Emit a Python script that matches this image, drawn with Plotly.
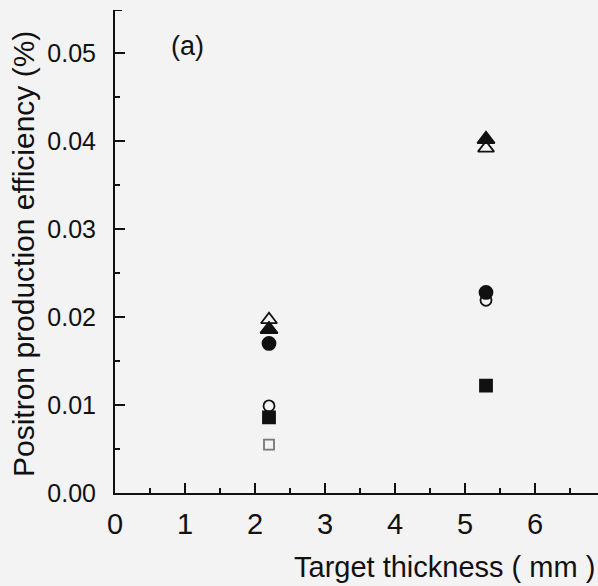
import plotly.graph_objects as go

thickness = [2.2, 5.3]
filled_tri = [0.0186, 0.0402]
open_tri = [0.0197, 0.0392]
filled_circ = [0.0170, 0.0228]
open_circ = [0.0099, 0.0219]
filled_sq = [0.0086, 0.0122]
open_sq_x = [2.2]
open_sq = [0.0055]

x_ticks = [0, 1, 2, 3, 4, 5, 6]
y_ticks = [0.00, 0.01, 0.02, 0.03, 0.04, 0.05]
y_tick_text = ["0.00", "0.01", "0.02", "0.03", "0.04", "0.05"]

FONT = "Liberation Sans, Arial, sans-serif"
INK = "#111111"

fig = go.Figure()

def add(x, y, symbol, color=INK, size=12):
    fig.add_trace(go.Scatter(x=x, y=y, mode="markers",
                             marker=dict(symbol=symbol, size=size, color=color,
                                         line=dict(color=color, width=1.8)),
                             showlegend=False))

add(thickness, open_tri, "triangle-up-open", size=14)
add(thickness, filled_tri, "triangle-up", size=15)
add(thickness, filled_circ, "circle", size=13)
add(thickness, open_circ, "circle-open", size=11)
add(thickness, filled_sq, "square", size=12)
add(open_sq_x, open_sq, "square-open", color="#777777", size=10)

fig.update_layout(
    width=598, height=586,
    margin=dict(l=115, r=0, t=10, b=93),
    paper_bgcolor="#f3f3f3", plot_bgcolor="#f3f3f3",
    font=dict(family=FONT, color=INK, size=25),
    xaxis=dict(range=[0, 6.9], tickvals=x_ticks, showgrid=False, zeroline=False,
               showline=True, linecolor=INK, linewidth=2,
               ticks="inside", ticklen=10, tickwidth=2, tickcolor=INK,
               minor=dict(dtick=0.5, ticks="inside", ticklen=5, tickwidth=1.5, tickcolor=INK),
               tickfont=dict(size=29), ticklabelstandoff=4),
    yaxis=dict(range=[0, 0.0549], tickvals=y_ticks, ticktext=y_tick_text,
               showgrid=False, zeroline=False,
               showline=True, linecolor=INK, linewidth=2,
               ticks="inside", ticklen=10, tickwidth=2, tickcolor=INK,
               minor=dict(dtick=0.005, ticks="inside", ticklen=5, tickwidth=1.5, tickcolor=INK),
               tickfont=dict(size=25), ticklabelstandoff=12),
)

fig.add_shape(type="line", xref="x", yref="y", x0=0, x1=0.1, y0=0.0549, y1=0.0549,
              line=dict(color=INK, width=2))

pw, ph = 598 - 115, 586 - 10 - 93

def px(xp):
    return (xp - 115) / pw

def py(yp):
    return (493 - yp) / ph

fig.add_annotation(x=1.03, y=0.0508, xref="x", yref="y", text="(a)", showarrow=False,
                   font=dict(size=27, family=FONT, color=INK))
fig.add_annotation(x=px(444), y=py(567), xref="paper", yref="paper",
                   text="Target thickness ( mm )", showarrow=False,
                   xanchor="center", yanchor="middle",
                   font=dict(size=29, family=FONT, color=INK))
fig.add_annotation(x=px(23), y=py(254), xref="paper", yref="paper",
                   text="Positron production efficiency (%)", textangle=-90,
                   showarrow=False, xanchor="center", yanchor="middle",
                   font=dict(size=30, family=FONT, color=INK))

fig.write_html("out.html")
